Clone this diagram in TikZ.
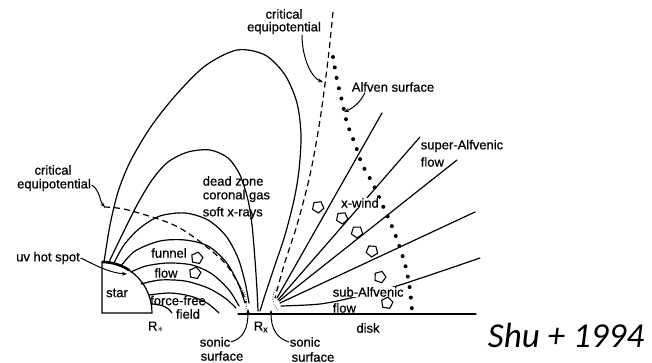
\documentclass[tikz,border=0pt]{standalone}
\usepackage{fontspec}
\setmainfont{Liberation Sans}[FakeBold=0.6]
\newfontfamily\citefont{Carlito}
\usetikzlibrary{arrows.meta,shapes.geometric}
\begin{document}
\begin{tikzpicture}[x=1pt,y=-1pt,
  fieldline/.style={line width=1.2pt, line cap=round},
  equipot/.style={line width=1.2pt, dash pattern=on 6pt off 4pt},
  alfven/.style={line width=4pt, line cap=round, dash pattern=on 0pt off 10.6pt},
  sonicarc/.style={line width=1pt, line cap=round, dash pattern=on 0pt off 2.4pt},
  lbl/.style={font=\fontsize{13}{14}\selectfont, inner sep=0.6pt},
  leader/.style={line width=1pt, -{Stealth[length=5pt,width=3.8pt]}},
  flowarrow/.style={regular polygon, regular polygon sides=5, draw, line width=1.1pt,
    minimum size=12pt, inner sep=0pt, fill=white},
]
\useasboundingbox (0,0) rectangle (652,363);

% ---- star and disk ----
\draw[fieldline] (102,313) -- (102,262)
  arc[start angle=270, end angle=360, x radius=50, y radius=51] -- cycle;
\draw[line width=2.6pt] (102,262)
  arc[start angle=270, end angle=303, x radius=50, y radius=51];
\draw[fieldline] (238,314) -- (476,314);

% ---- closed field lines of the dead zone ----
\draw[fieldline] plot[smooth] coordinates {(104,262) (110,225) (118,192) (130,162)
  (150,128) (175,96) (205,66) (237,50) (265,55) (285,75) (297,103) (301,135)
  (299,170) (294,200) (285,235) (274,268) (265,295) (260,311)};
\draw[fieldline] plot[smooth] coordinates {(109,262) (122,235) (137,205) (152,180)
  (168,162) (188,152) (210,150) (228,158) (240,175) (248,200) (252,225) (255,260)
  (257,290) (258,311)};

% ---- funnel field lines ----
\draw[fieldline] plot[smooth] coordinates {(114,263) (124,245) (140,228) (160,216)
  (185,213) (208,220) (226,236) (238,258) (245,282) (249,303)};
\draw[fieldline] plot[smooth] coordinates {(121,266) (135,251) (160,241) (185,240)
  (208,246) (226,262) (238,283) (245,303)};
\draw[fieldline] plot[smooth] coordinates {(131,272) (146,266) (168,263) (192,265)
  (212,274) (229,290) (239,306)};
\draw[fieldline] plot[smooth] coordinates {(141,284) (160,280) (185,281) (208,288)
  (225,298) (236,308)};

% ---- force-free field lines ----
\draw[fieldline] plot[smooth] coordinates {(149,295) (170,293) (190,296) (207,303)
  (219,313)};
\draw[fieldline] (151,304) .. controls (162,304) and (169,308) .. (172,313);

% ---- wind field lines ----
\draw[fieldline] (277,298) -- (382,113);
\draw[fieldline] (278,300) -- (420,137);
\draw[fieldline] (279,301) -- (457,160);
\draw[fieldline] (280,303) -- (475,212);
\draw[fieldline] plot[smooth] coordinates {(281,306) (320,304) (355,297) (400,285)
  (480,258)};

% ---- critical equipotentials ----
\draw[equipot] plot[smooth] coordinates {(333,12) (328,60) (320,120) (310,175)
  (297,225) (284,265) (275,298)};
\draw[equipot] plot[smooth] coordinates {(104,207) (128,210) (178,227) (222,260)
  (240,287) (246,303)};

% ---- Alfven surface ----
\draw[alfven] plot[smooth] coordinates {(333,57) (337,80) (342,101) (347,123)
  (355,144) (362,164) (373,184) (382,204) (391,224) (399,245) (406,268)
  (410,290) (412,311)};

% ---- sonic surfaces ----
\draw[sonicarc] (238,285) .. controls (246,292) and (248,300) .. (246,309);
\draw[sonicarc] (276,288) .. controls (271,296) and (272,305) .. (279,311);

% ---- flow arrows ----
\node[flowarrow, rotate=60] (fa1) at (197,258) {};
\node[flowarrow, rotate=60] (fa2) at (195,273) {};
\node[flowarrow, rotate=-30] (wa1) at (318,207) {};
\node[flowarrow, rotate=-30] (wa2) at (342,218) {};
\node[flowarrow, rotate=-35] (wa3) at (357,232) {};
\node[flowarrow, rotate=-40] (wa4) at (372,251) {};
\node[flowarrow, rotate=-20] (wa5) at (380,277) {};
\node[flowarrow, rotate=-10] (wa6) at (387,303) {};

% ---- labels ----
\node[lbl] (critA) at (284,14) {critical};
\node[lbl] (equiA) at (284,28) {equipotential};
\node[lbl] (alflbl) at (393,87) {Alfven surface};
\node[lbl, anchor=west] (superA) at (420,146) {super-Alfvenic};
\node[lbl, anchor=west] (superB) at (420,162) {flow};
\node[lbl, anchor=west] (deadA) at (202,181) {dead zone};
\node[lbl, anchor=west] (deadB) at (202,196) {coronal gas};
\node[lbl, anchor=west] (deadC) at (202,213) {soft x-rays};
\node[lbl, fill=white] (xwind) at (360,203) {x-wind};
\node[lbl] (critB) at (53,170) {critical};
\node[lbl] (equiB) at (54,185) {equipotential};
\node[lbl] (hot) at (48,258) {uv hot spot};
\node[lbl] (starlbl) at (117,293) {star};
\node[lbl] (funnel) at (169,253) {funnel};
\node[lbl] (flowA) at (166,273) {flow};
\node[lbl, inner sep=0pt] (ffA) at (178,300.5) {force-free};
\node[lbl, inner sep=0pt] (ffB) at (188,314) {field};
\node[lbl] (rstar) at (156,327) {R\textsubscript{\large$\ast$}};
\node[lbl] (rx) at (261,327) {R\textsubscript{x}};
\node[lbl] (sonicL) at (215,342) {sonic};
\node[lbl] (surfL) at (222,356) {surface};
\node[lbl] (sonicR) at (305,342) {sonic};
\node[lbl] (surfR) at (313,357) {surface};
\node[lbl, anchor=west, fill=white] (subA) at (332,292) {sub-Alfvenic};
\node[lbl, anchor=west] (subB) at (332,308) {flow};
\node[lbl] (disk) at (368,328) {disk};
\node[font=\citefont\itshape\fontsize{35}{40}\selectfont, inner sep=0pt] (cite)
  at (566,335) {Shu + 1994};

% ---- leaders ----
\coordinate (equiAtip) at (323,82);
\coordinate (alftip) at (344,112);
\coordinate (equiBtip) at (105,207);
\coordinate (hottip) at (127,274);
\coordinate (sonicLtip) at (248,309);
\coordinate (sonicRtip) at (271,310);
\draw[leader] ([xshift=18pt]equiA.south) .. controls +(0,24) and (312,78) .. (equiAtip);
\draw[leader] ([xshift=-28pt]alflbl.south) .. controls (360,103) and (353,108) .. (alftip);
\draw[leader] (equiB.east) .. controls (100,190) and (100,202) .. (equiBtip);
\draw[leader] (hot.east) .. controls (97,266) and (110,273) .. (hottip);
\draw[leader] (sonicL.east) .. controls (244,338) and (248,328) .. (sonicLtip);
\draw[leader] (sonicR.west) .. controls (276,338) and (271,328) .. (sonicRtip);
\end{tikzpicture}
\end{document}
